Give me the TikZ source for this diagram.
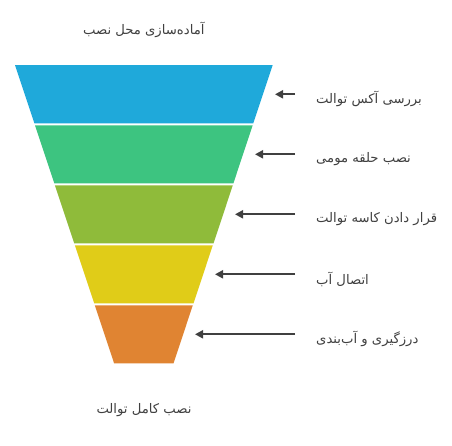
\documentclass[tikz,border=0pt]{standalone}
\usepackage{fontspec}
\newfontfamily\arabicfont[Script=Arabic]{DejaVu Sans}
\TeXXeTstate=1
\usetikzlibrary{arrows.meta}
\definecolor{cblue}{RGB}{31,169,218}
\definecolor{cgreen}{RGB}{61,196,128}
\definecolor{colive}{RGB}{143,187,58}
\definecolor{cyellow}{RGB}{224,204,24}
\definecolor{corange}{RGB}{224,132,50}
\definecolor{ctext}{RGB}{64,64,64}
\begin{document}
\begin{tikzpicture}[x=1pt,y=-1pt,
  lbl/.style={text=ctext,font=\arabicfont\fontsize{13.2}{15}\selectfont,inner sep=0pt},
  steplbl/.style={lbl,anchor=west},
  arr/.style={draw=ctext,line width=2pt,-{Triangle[length=8pt,width=8pt]}}]
\useasboundingbox[fill=white] (0,0) rectangle (452,445);
% funnel bands
\fill[cblue]   (15,65)    -- (272.7,65)    -- (253.3,123.3) -- (34.4,123.3) -- cycle;
\fill[cgreen]  (35.0,125.3) -- (252.7,125.3) -- (233.4,183.3) -- (54.3,183.3) -- cycle;
\fill[colive]  (54.9,185.3) -- (232.8,185.3) -- (213.5,243.3) -- (74.2,243.3) -- cycle;
\fill[cyellow] (74.9,245.3) -- (212.8,245.3) -- (193.5,303.3) -- (94.2,303.3) -- cycle;
\fill[corange] (94.8,305.3) -- (192.8,305.3) -- (173.5,363.3) -- (114.1,363.3) -- cycle;
% top and bottom labels
\node[lbl] (top) at (143.8,30) {\beginR آماده‌سازی محل نصب\endR};
\node[lbl] (bottom) at (144,410) {\beginR نصب کامل توالت\endR};
% arrow endpoints
\coordinate (t1) at (295,94.3);  \coordinate (h1) at (275,94.3);
\coordinate (t2) at (295,154.3); \coordinate (h2) at (255,154.3);
\coordinate (t3) at (295,214.3); \coordinate (h3) at (235,214.3);
\coordinate (t4) at (295,274.3); \coordinate (h4) at (215,274.3);
\coordinate (t5) at (295,334.3); \coordinate (h5) at (195,334.3);
\foreach \i in {1,...,5} \draw[arr] (t\i) -- (h\i);
% step labels
\node[steplbl] (s1) at (316,99)  {\beginR بررسی آکس توالت\endR};
\node[steplbl] (s2) at (316,159) {\beginR نصب حلقه مومی\endR};
\node[steplbl] (s3) at (316,219) {\beginR قرار دادن کاسه توالت\endR};
\node[steplbl] (s4) at (316,279) {\beginR اتصال آب\endR};
\node[steplbl] (s5) at (316,339) {\beginR درزگیری و آب‌بندی\endR};
\end{tikzpicture}
\end{document}
